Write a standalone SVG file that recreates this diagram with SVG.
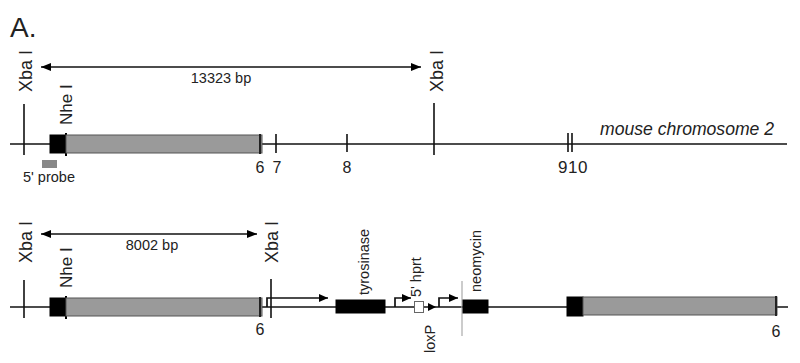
<svg xmlns="http://www.w3.org/2000/svg" width="800" height="363" viewBox="0 0 800 363">
<defs>
<style>
text{font-family:"Liberation Sans",Arial,sans-serif;fill:#222}
.lbl{font-size:14.5px}
.site{font-size:18px}
.num{font-size:16px}
.ln{stroke:#111;stroke-width:1.7;fill:none}
.tick{stroke:#111;stroke-width:1.6}
.blk{fill:#000;stroke:#000;stroke-width:1}
.gry{fill:#9a9a9a;stroke:#555;stroke-width:1}
.gline{stroke:#aaa;stroke-width:1.2}
</style>
<marker id="ah" viewBox="0 0 10 8" refX="10" refY="4" markerWidth="10" markerHeight="8" markerUnits="userSpaceOnUse" orient="auto-start-reverse">
<path d="M0,0 L10,4 L0,8 Z" fill="#000"/>
</marker>
<marker id="sh" viewBox="0 0 9 8" refX="9" refY="4" markerWidth="9" markerHeight="8" markerUnits="userSpaceOnUse" orient="auto">
<path d="M0,0 L9,4 L0,8 Z" fill="#000"/>
</marker>
</defs>
<rect width="800" height="363" fill="#fff"/>
<text x="10" y="37" style="font-size:28px">A.</text>

<g id="connectors">
<line class="ln" x1="10" y1="144" x2="787" y2="144"/>
<line class="ln" x1="41" y1="67" x2="421" y2="67" marker-start="url(#ah)" marker-end="url(#ah)"/>
<line class="ln" x1="10" y1="307" x2="788" y2="307"/>
<line class="ln" x1="41" y1="234" x2="257" y2="234" marker-start="url(#ah)" marker-end="url(#ah)"/>
<path class="ln" d="M267,307 V298 H328" marker-end="url(#sh)"/>
<path class="ln" d="M395,307 V298 H411" marker-end="url(#sh)"/>
<path class="ln" d="M439,307 V298 H458" marker-end="url(#sh)"/>
</g>

<g id="top-map">
<g id="xba1-top">
<line class="tick" x1="24" y1="104" x2="24" y2="155"/>
<text class="site" transform="translate(32,92) rotate(-90)">Xba I</text>
</g>
<g id="size-top"><text class="lbl" x="221" y="83" text-anchor="middle">13323 bp</text></g>
<g id="xba2-top">
<line class="tick" x1="434" y1="103" x2="434" y2="155"/>
<text class="site" transform="translate(443,92) rotate(-90)">Xba I</text>
</g>
<g id="exon-top">
<rect class="blk" x="50" y="135" width="16" height="18"/>
<line x1="66" y1="133" x2="66" y2="156" stroke="#000" stroke-width="2"/>
<rect class="gry" x="66" y="135" width="196" height="18"/>
<line x1="260" y1="134" x2="260" y2="154" stroke="#222" stroke-width="2"/>
<text class="site" transform="translate(72,125) rotate(-90)" style="font-size:17px">Nhe I</text>
<text class="num" x="260" y="173" text-anchor="middle">6</text>
</g>
<g id="probe">
<rect x="42" y="160" width="15" height="8" fill="#888"/>
<text class="lbl" x="23" y="182">5' probe</text>
</g>
<g id="exon7"><line class="tick" x1="276" y1="134" x2="276" y2="153"/><text class="num" x="277" y="173" text-anchor="middle">7</text></g>
<g id="exon8"><line class="tick" x1="347" y1="134" x2="347" y2="152"/><text class="num" x="347" y="173" text-anchor="middle">8</text></g>
<g id="exon910">
<line class="tick" x1="568" y1="133" x2="568" y2="152"/>
<line class="tick" x1="572" y1="133" x2="572" y2="152"/>
<text class="num" x="573" y="173" text-anchor="middle" style="font-size:17px;letter-spacing:0.5px">910</text>
</g>
<g id="chrom-label"><text x="600" y="135" style="font-size:17.6px;font-style:italic">mouse chromosome 2</text></g>
</g>

<g id="bottom-map">
<g id="xba1-bot">
<line class="tick" x1="24" y1="280" x2="24" y2="318"/>
<text class="site" transform="translate(32,263) rotate(-90)">Xba I</text>
</g>
<g id="size-bot"><text class="lbl" x="152" y="250" text-anchor="middle">8002 bp</text></g>
<g id="exon-bot">
<rect class="blk" x="50" y="298" width="16" height="18"/>
<line x1="66" y1="296" x2="66" y2="319" stroke="#000" stroke-width="2"/>
<rect class="gry" x="66" y="298" width="196" height="18"/>
<line x1="260" y1="297" x2="260" y2="317" stroke="#222" stroke-width="2"/>
<text class="site" transform="translate(72,288) rotate(-90)" style="font-size:17px">Nhe I</text>
<text class="num" x="260" y="335" text-anchor="middle">6</text>
</g>
<g id="xba2-bot">
<line class="tick" x1="271" y1="279" x2="271" y2="318"/>
<text class="site" transform="translate(278,263) rotate(-90)">Xba I</text>
</g>
<g id="tyrosinase">
<rect class="blk" x="336" y="300" width="49" height="13"/>
<text class="lbl" transform="translate(369,295) rotate(-90)">tyrosinase</text>
</g>
<g id="hprt">
<rect x="414.5" y="301.5" width="9" height="11" fill="#fff" stroke="#666" stroke-width="1"/>
<text class="lbl" transform="translate(421,297) rotate(-90)">5' hprt</text>
</g>
<g id="loxP">
<path d="M428,303 L436,307 L428,311 Z" fill="#000"/>
<text class="lbl" transform="translate(435,353) rotate(-90)">loxP</text>
</g>
<g id="neomycin">
<line class="gline" x1="462" y1="281" x2="462" y2="336"/>
<rect class="blk" x="463" y="300" width="25" height="13"/>
<text class="lbl" transform="translate(481,292) rotate(-90)">neomycin</text>
</g>
<g id="exon-right">
<rect class="blk" x="567" y="297" width="16" height="19"/>
<rect class="gry" x="583" y="297" width="194" height="18"/>
<line x1="776" y1="296" x2="776" y2="316" stroke="#222" stroke-width="2"/>
<text class="num" x="776" y="337" text-anchor="middle">6</text>
</g>
</g>
</svg>
